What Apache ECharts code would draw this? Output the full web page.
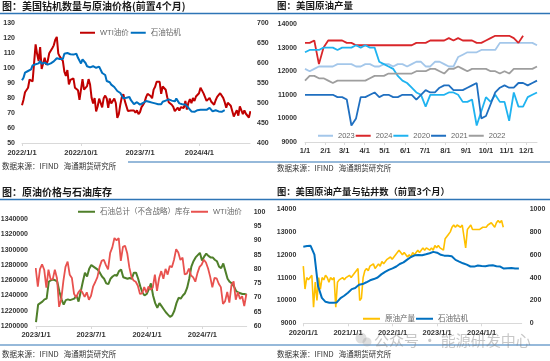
<!DOCTYPE html>
<html><head><meta charset="utf-8">
<script src="https://cdn.jsdelivr.net/npm/echarts@6/dist/echarts.min.js"></script>
<style>html,body{margin:0;padding:0;background:#fff}#c{width:550px;height:361px}</style>
</head><body><div id="c"></div><script>
// ---------- Panel 1: 美国钻机数量与原油价格(前置4个月) ----------
const p1Start = '2022/1/1';
const p1TickLabels = ['2022/1/1','2022/10/1','2023/7/1','2024/4/1'];
const p1End = '2024/11/21';
// WTI weekly from 2022/1/1 (also used in panel 3)
const wtiWeekly = [75.2,78.9,83.8,85.1,86.8,92.3,93.1,91.1,91.6,115.7,109.3,104.7,113.9,99.3,98.3,106.9,102.1,104.7,109.8,110.5,113.2,115.1,118.9,120.7,109.6,107.6,108.4,104.8,97.6,94.7,98.6,89.0,92.1,90.8,93.1,86.9,86.8,85.1,78.7,79.5,92.6,85.6,85.1,87.9,92.6,89.0,80.1,76.3,80.0,71.0,74.3,79.6,80.3,
73.8,79.9,81.6,79.7,73.4,79.7,76.3,76.3,79.7,76.7,66.7,69.3,75.7,80.7,82.5,77.9,76.8,71.3,70.0,71.7,72.7,71.7,70.2,71.8,69.2,70.6,73.9,75.4,77.1,80.6,82.8,83.2,81.3,79.8,85.6,87.5,90.8,90.0,90.8,82.8,87.7,88.1,85.5,80.5,77.2,75.9,75.5,74.1,71.2,71.4,73.6,71.7,
73.8,72.7,73.4,78.0,72.3,76.8,79.2,76.5,80.0,78.0,81.0,80.6,83.2,86.9,85.7,83.1,83.9,78.1,78.3,80.1,77.7,77.0,75.5,78.5,80.7,81.5,83.2,82.2,80.1,77.2,73.5,76.8,76.7,74.8,73.6,67.7,68.7,71.9,68.2,74.4,75.6,69.2,71.8,69.5,70.4,67.0,71.2];
// oil rigs, shifted forward 4 months, weekly from 2022/1/1
const oilRigsLead4 = [557,563,576,574,580,584,584,594,595,597,599,599,605,598,601,601,605,596,591,599,602,604,602,612,612,610,613,610,623,627,625,627,622,622,621,
618,623,613,609,599,609,607,600,592,590,589,593,592,590,588,591,591,586,575,575,570,555,556,552,546,545,540,537,530,529,525,520,512,512,513,515,515,507,502,497,501,502,504,496,500,500,503,505,503,503,500,501,
501,499,499,497,499,497,503,503,506,505,509,510,506,508,504,511,506,499,496,497,497,496,492,488,485,479,479,478,477,482,482,483,483,483,483,483,484,488,484,479,481,482,480,479,479,478,477,482];

// ---------- Panel 2: 美国原油产量 (weekly, by year) ----------
const monthLabels = ['1/1','2/1','3/1','4/1','5/1','6/1','7/1','8/1','9/1','10/1','11/1','12/1'];
const yearNames = ['2023','2024','2020','2021','2022'];
const prod2023 = [12100,12000,12100,12200,12200,12200,12200,12300,12300,12300,12300,12200,12200,12300,12300,12200,12200,12300,12300,12200,12300,12300,12200,12300,12400,12400,12200,12200,12400,12400,12300,12200,12200,12600,12700,12800,12800,12800,12900,12900,12900,12900,13200,13200,13200,13200,13200,13200,13200,13200,13100];
const prod2024 = [13200,13200,13300,12300,13000,13300,13300,13300,13300,13200,13200,13100,13100,13100,13100,13100,13100,13100,13100,13100,13100,13100,13100,13100,13200,13200,13200,13300,13300,13300,13300,13400,13300,13400,13300,13300,13300,13200,13200,13300,13400,13500,13500,13500,13500,13400,13200,13500,null,null,null];
const prod2020 = [12800,12900,12900,12900,13000,13000,13000,12900,13000,13000,13000,13100,13000,13100,13000,13000,12400,12300,12200,12100,11800,11600,11500,11300,11100,11000,10500,11000,11000,11000,11000,11100,11100,11000,10700,10700,10800,9700,10300,10900,10700,11000,10700,10700,9900,11100,10500,10500,10900,11000,11100];
const prod2021 = [11000,11000,11000,11000,11000,11000,11000,10900,10900,10800,9700,10000,10900,10900,11000,11100,10900,11000,11000,10900,10900,11000,11000,11000,10800,11000,11200,11100,11100,11300,11400,11400,11200,11200,11200,11300,11400,11500,10000,10100,10600,11100,11300,11400,11300,11300,11500,11500,11400,11500,11600];
const prod2022 = [11600,11800,11800,11700,11700,11600,11500,11600,11600,11600,11600,11600,11600,11600,11700,11800,11800,11800,11900,11900,11900,11900,11900,11900,12000,12000,12000,12100,12100,12000,11900,12100,12100,12200,12100,12000,12100,12100,12100,12100,12000,12000,11900,12000,11900,12100,12100,12100,12100,12100,12200];

// ---------- Panel 3: 原油价格与石油库存 ----------
const p3Start = '2023/1/1';
const p3TickLabels = ['2023/1/1','2023/7/1','2024/1/1','2024/7/1'];
const p3End = '2024/11/24';
// 石油总计（不含战略）库存, weekly from 2023/1/1
const stocksExSPR = [1205000,1228000,1230000,1232000,1235000,1236000,1258000,1260000,1261000,1260000,
1258000,1245000,1235000,1228000,1234000,1235000,1234000,1235000,1236000,1240000,
1232000,1245000,1258000,1270000,1265000,1275000,1280000,1278000,1276000,1274000,
1270000,1265000,1262000,1256000,1255000,1262000,1265000,1267000,1266000,1272000,
1274000,1264000,1263000,1262000,1263000,1262000,1270000,1270000,1262000,1252000,
1244000,1240000,1242000,1248000,1256000,1240000,1230000,1224000,1230000,1226000,
1222000,1218000,1215000,1212000,1214000,1220000,1230000,1237000,1236000,1240000,
1243000,1250000,1262000,1278000,1285000,1290000,1293000,1296000,1286000,1291000,
1295000,1292000,1290000,1290000,1287000,1285000,1278000,1276000,1282000,1272000,
1262000,1258000,1256000,1252000,1246000,1244000,1243000,1242000,1242000,1241000];

// ---------- Panel 4: 美国原油产量与钻井数（前置3个月） ----------
const p4Start = '2020/1/1';
const p4TickLabels = ['2020/1/1','2021/1/1','2022/1/1','2023/1/1','2024/1/1'];
const p4End = '2024/11/24';
// 原油产量, every two weeks from 2020/1/1
const crudeProdBiweekly = [11500,10500,11000,10900,11000,11100,9700,10800,10000,11000,
10500,11000,10900,11100,11000,10800,11000,10900,11000,9700,
10800,10900,10900,11000,10900,11000,11000,11100,11000,11100,
11200,11200,11400,10000,10100,11000,11300,11400,11300,11500,
11500,11600,11400,11500,11600,11500,11700,11600,11700,11800,
11800,11900,11800,11900,12000,12100,12200,12100,12000,12100,
12000,11900,12000,11900,12100,12000,12100,12200,12100,12200,
12300,12200,12300,12300,12200,12300,12200,12400,12300,12400,
12300,12300,12200,12700,12800,12900,13000,13200,13300,13200,
13300,13300,13200,13300,13300,12300,13100,13200,13300,13100,
13100,13100,13100,13100,13100,13200,13200,13200,13300,13300,
13400,13300,13200,13400,13500,13400,13500,13200];
// 石油钻机, monthly from 2020/1
const oilRigsMonthly = [670,676,678,600,325,222,188,180,180,183,221,241,
267,299,309,337,343,359,376,387,401,428,450,467,
480,497,519,533,557,580,595,598,596,604,613,625,
618,599,592,590,586,555,540,525,513,497,496,505,
501,499,506,508,499,496,479,482,483,479,479];

// ---------- helpers ----------
const DAY = 86400000;
const CJK = '"Noto Sans CJK SC","Noto Sans",sans-serif';
const NUM = '"Liberation Sans","Noto Sans CJK SC",sans-serif';
function ymd(s){ const p = s.split('/').map(Number); return Date.UTC(p[0], p[1]-1, p[2]); }
function days(from, t){ return Math.round((t - from) / DAY); }
function fmtFor(vals, labels){ return v => { for (let k=0;k<vals.length;k++) if (Math.abs(vals[k]-v) < 0.5) return labels[k]; return ''; }; }
function xAxisCfg(grid, max, tickVals, labels, margin){
  return {type:'value', gridIndex:grid, min:0, max:max,
    axisLine:{show:true, onZero:false, lineStyle:{color:'#d9d9d9', width:1}},
    axisTick:{show:true, customValues:tickVals, length:3, lineStyle:{color:'#d9d9d9'}},
    axisLabel:{customValues:tickVals, formatter:fmtFor(tickVals, labels), margin:margin, fontSize:7.5, fontWeight:'bold', color:'#333', fontFamily:NUM},
    splitLine:{show:false}};
}
function yAxisCfg(grid, pos, min, max, interval, margin, extra){
  const a = {type:'value', gridIndex:grid, position:pos, min:min, max:max, interval:interval,
    axisLine:{show:false}, axisTick:{show:false}, splitLine:{show:false},
    axisLabel:Object.assign({margin:margin, fontSize:7, fontWeight:'bold', color:'#333', fontFamily:NUM, formatter: v => String(v)}, extra||{})};
  return a;
}
function line(name, xi, yi, data, color, width){
  return {name:name, type:'line', xAxisIndex:xi, yAxisIndex:yi, data:data, showSymbol:false, symbol:'none',
    lineStyle:{color:color, width:width}, itemStyle:{color:color}, connectNulls:false};
}

// panel 1 data
const s1 = ymd(p1Start);
const p1Ticks = p1TickLabels.map(l => days(s1, ymd(l)));
const p1Max = days(s1, ymd(p1End));
const wti1 = wtiWeekly.map((v,i) => [i*7, v]);
const rigs1 = oilRigsLead4.map((v,i) => [i*7, v]);
// panel 2
const y0 = Date.UTC(2023,0,1);
const p2Ticks = monthLabels.map(l => days(y0, Date.UTC(2023, Number(l.split('/')[0]) - 1, 1)));
const toWeeks = arr => arr.map((v,i) => [i*7, v]);
// panel 3
const s3 = ymd(p3Start);
const p3Ticks = p3TickLabels.map(l => days(s3, ymd(l)));
const p3Max = days(s3, ymd(p3End));
const stocks3 = stocksExSPR.map((v,i) => [i*7, v]);
const wti3 = wtiWeekly.map((v,i) => [days(s3, s1 + i*7*DAY), v]).filter(p => p[0] >= -7);
// panel 4
const s4 = ymd(p4Start);
const p4Ticks = p4TickLabels.map(l => days(s4, ymd(l)));
const p4Max = days(s4, ymd(p4End));
const prod4 = crudeProdBiweekly.map((v,k) => [k*14, v]);
const rigs4 = oilRigsMonthly.map((v,m) => [days(s4, Date.UTC(2020, m, 1)), v]);

const legendText = {fontSize:7.5, color:'#666', fontFamily:NUM};
const lineColor = '#2e75b6';
const option = {
  animation:false,
  backgroundColor:'#fff',
  title:[
    {text:'图：美国钻机数量与原油价格(前置4个月)', left:2, top:1, padding:0, textStyle:{fontSize:10, fontWeight:'bold', color:'#1a1a1a', fontFamily:CJK}},
    {text:'图：美国原油产量', left:277, top:1, padding:0, textStyle:{fontSize:9.5, fontWeight:'bold', color:'#1a1a1a', fontFamily:CJK}},
    {text:'图：原油价格与石油库存', left:2, top:187, padding:0, textStyle:{fontSize:10, fontWeight:'bold', color:'#1a1a1a', fontFamily:CJK}},
    {text:'图：美国原油产量与钻井数（前置3个月）', left:277, top:187, padding:0, textStyle:{fontSize:9.3, fontWeight:'bold', color:'#1a1a1a', fontFamily:CJK}}
  ],
  grid:[
    {left:22, top:23, width:228, height:120, outerBoundsMode:'none'},
    {left:305, top:24, width:232, height:118, outerBoundsMode:'none'},
    {left:36, top:211.7, width:210.7, height:114.3, outerBoundsMode:'none'},
    {left:303.3, top:209, width:218.4, height:114.3, outerBoundsMode:'none'}
  ],
  xAxis:[
    xAxisCfg(0, p1Max, p1Ticks, p1TickLabels, 6),
    xAxisCfg(1, 350, p2Ticks, monthLabels, 5),
    xAxisCfg(2, p3Max, p3Ticks, p3TickLabels, 5.5),
    xAxisCfg(3, p4Max, p4Ticks, p4TickLabels, 6)
  ],
  yAxis:[
    yAxisCfg(0, 'left', 50, 130, 10, 7),
    yAxisCfg(0, 'right', 400, 700, 50, 7),
    yAxisCfg(1, 'left', 9000, 14000, 1000, 8),
    yAxisCfg(2, 'left', 1200000, 1350000, 20000, 8, {showMaxLabel:false}),
    yAxisCfg(2, 'right', 60, 100, 5, 7),
    yAxisCfg(3, 'left', 9000, 14000, 1000, 7),
    yAxisCfg(3, 'right', 0, 1000, 200, 8)
  ],
  legend:[
    {left:80, top:29, padding:0, icon:'rect', itemWidth:15, itemHeight:2, itemGap:2, selectedMode:false, textStyle:legendText,
     data:['WTI油价','石油钻机']},
    {left:318, top:132, padding:0, icon:'rect', itemWidth:15, itemHeight:2, itemGap:1, selectedMode:false, textStyle:legendText,
     data:yearNames},
    {left:78, top:208, padding:0, icon:'rect', itemWidth:17, itemHeight:2, itemGap:1, selectedMode:false, textStyle:legendText,
     data:['石油总计（不含战略）库存', {name:'WTI油价 ', itemStyle:{color:'#e8524f'}}]},
    {left:363, top:315, padding:0, icon:'rect', itemWidth:17, itemHeight:2, itemGap:1, selectedMode:false, textStyle:legendText,
     data:['原油产量', '石油钻机']}
  ],
  series:[
    line('WTI油价', 0, 0, wti1, '#c00000', 2),
    line('石油钻机', 0, 1, rigs1, '#0070c0', 2),
    line('2023', 1, 2, toWeeks(prod2023), '#a4c7ea', 1.8),
    line('2024', 1, 2, toWeeks(prod2024), '#d9262a', 1.8),
    line('2020', 1, 2, toWeeks(prod2020), '#1fb3f0', 1.8),
    line('2021', 1, 2, toWeeks(prod2021), '#1f6fc0', 1.8),
    line('2022', 1, 2, toWeeks(prod2022), '#9e9e9e', 1.8),
    line('石油总计（不含战略）库存', 2, 3, stocks3, '#4f7f2a', 2),
    line('WTI油价 ', 2, 4, wti3, '#e8524f', 1.8),
    line('原油产量', 3, 5, prod4, '#ffc000', 1.6),
    line('石油钻机', 3, 6, rigs4, '#0070c0', 2)
  ],
  graphic:[
    {type:'line', shape:{x1:0, y1:13.5, x2:550, y2:13.5}, style:{stroke:lineColor, lineWidth:1.5}},
    {type:'line', shape:{x1:128, y1:162, x2:550, y2:162}, style:{stroke:lineColor, lineWidth:1.2}},
    {type:'line', shape:{x1:0, y1:199.5, x2:550, y2:199.5}, style:{stroke:lineColor, lineWidth:1.5}},
    {type:'line', shape:{x1:0, y1:345, x2:550, y2:345}, style:{stroke:lineColor, lineWidth:1.2}},
    {type:'text', x:2, y:166, style:{text:'数据来源：IFIND   海通期货研究所', fill:'#333', font:'7.5px "Noto Sans CJK SC"', verticalAlign:'middle'}},
    {type:'text', x:277, y:168, style:{text:'数据来源：IFIND   海通期货研究所', fill:'#333', font:'7.5px "Noto Sans CJK SC"', verticalAlign:'middle'}},
    {type:'text', x:2, y:354, style:{text:'数据来源：IFIND   海通期货研究所', fill:'#333', font:'7.5px "Noto Sans CJK SC"', verticalAlign:'middle'}},
    {type:'text', x:277, y:354, style:{text:'数据来源：IFIND   海通期货研究所', fill:'#333', font:'7.5px "Noto Sans CJK SC"', verticalAlign:'middle'}},
    {type:'circle', shape:{cx:361, cy:338, r:5.5}, style:{fill:'rgba(160,160,160,0.35)'}},
    {type:'circle', shape:{cx:367, cy:342, r:4.5}, style:{fill:'rgba(160,160,160,0.35)'}},
    {type:'text', x:374, y:340, style:{text:'公众号 · 能源研发中心', fill:'rgba(130,130,130,0.45)', font:'15px "Noto Sans CJK SC"', verticalAlign:'middle'}}
  ]
};
const chart = echarts.init(document.getElementById('c'), null, {renderer:'canvas'});
chart.setOption(option);
</script></body></html>
